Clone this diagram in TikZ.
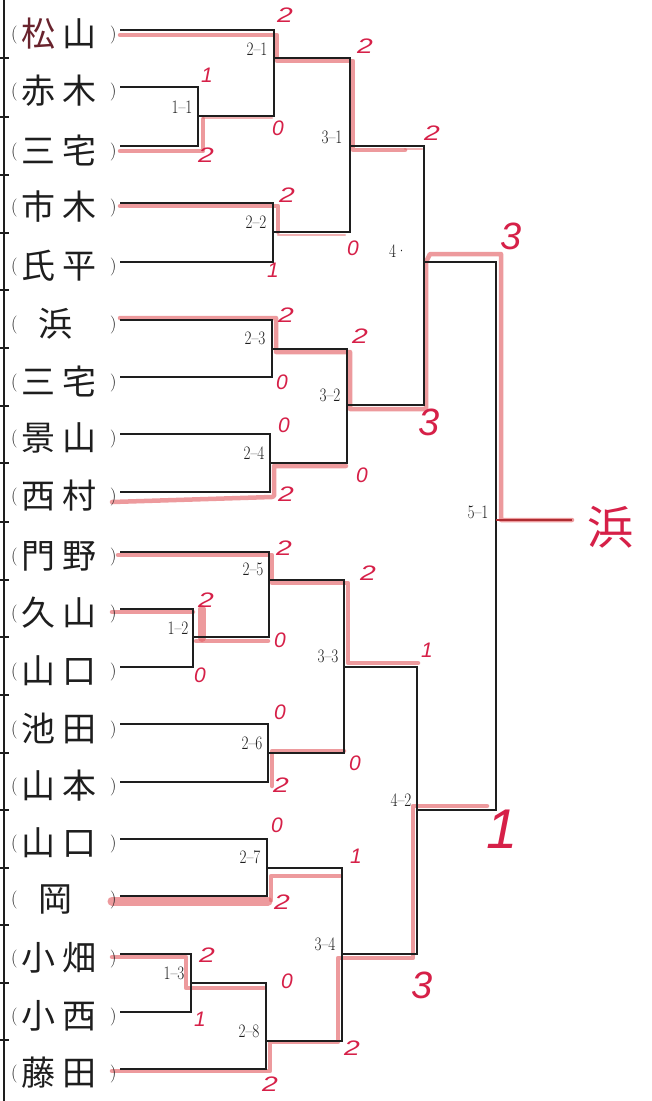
\documentclass[tikz,border=0pt]{standalone}
\usepackage{fontspec}
\usepackage{graphicx}
\newfontfamily\cjk{Noto Sans CJK JP}
\newfontfamily\pen{Liberation Sans}
\definecolor{penred}{RGB}{214,32,72}
\definecolor{hlred}{RGB}{228,100,105}
\definecolor{ink}{RGB}{30,30,30}
\definecolor{matsu}{RGB}{105,35,45}
\definecolor{finalred}{RGB}{175,45,50}
\newcommand\mlab[1]{\scalebox{0.8}[1]{#1}}
\newcommand\brL{\makebox[20pt]{\normalfont\fontsize{18}{18}\selectfont\raisebox{7pt}{(}}}
\newcommand\brR{\makebox[14pt]{\normalfont\fontsize{18}{18}\selectfont\raisebox{7pt}{)}}}
\newcommand\nmtwo[2]{\brL\makebox[28pt]{#1}\makebox[54pt]{#2}\brR}
\newcommand\nmone[1]{\brL\makebox[62pt]{#1}\makebox[20pt]{}\brR}
\newcommand\sd[1]{\scalebox{1.35}[1]{#1}}
\begin{document}
\begin{tikzpicture}[x=1pt,y=-1pt,
  br/.style={line width=1.3pt, draw=ink},
  hl/.style={line width=4.5pt, draw=hlred, draw opacity=0.65, line cap=round, line join=round},
  hlthin/.style={line width=2.5pt, draw=hlred, draw opacity=0.5, line cap=round, line join=round},
  nm/.style={anchor=west, inner sep=0, font=\cjk\fontsize{34}{34}\selectfont, text=ink},
  lbl/.style={inner sep=0, font=\normalfont\fontsize{19}{19}\selectfont, text=ink},
  sc/.style={inner sep=0, text=penred, font=\pen\itshape\fontsize{21}{21}\selectfont},
  scb/.style={inner sep=0, text=penred, font=\pen\itshape\fontsize{38}{38}\selectfont},
  scx/.style={inner sep=0, text=penred, font=\pen\itshape\fontsize{56}{56}\selectfont}]
\useasboundingbox (0,0) rectangle (652,1101);
\fill[white] (0,0) rectangle (652,1101);

% left border with ticks
\draw[line width=1.5pt, draw=ink] (4,0) -- (4,1101);
\foreach \t in {58,117,175,233,290,348,406,463,522,580,637,695,753,810,868,925,983,1040}
  \draw[line width=1.3pt, draw=ink] (0,\t) -- (9,\t);

% name line starts
\coordinate (e1) at (120,30);
\coordinate (e2) at (120,87);
\coordinate (e3) at (120,146);
\coordinate (e4) at (120,203);
\coordinate (e5) at (120,262);
\coordinate (e6) at (120,320);
\coordinate (e7) at (120,377);
\coordinate (e8) at (120,434);
\coordinate (e9) at (120,492);
\coordinate (e10) at (120,552);
\coordinate (e11) at (120,609);
\coordinate (e12) at (120,667);
\coordinate (e13) at (120,724);
\coordinate (e14) at (120,782);
\coordinate (e15) at (120,839);
\coordinate (e16) at (120,896);
\coordinate (e17) at (120,954);
\coordinate (e18) at (120,1012);
\coordinate (e19) at (120,1069);
% match junctions
\coordinate (m11) at (198,116);
\coordinate (m21) at (274,58);
\coordinate (m22) at (273,232);
\coordinate (m31) at (350,146);
\coordinate (m23) at (272,349);
\coordinate (m24) at (270,463);
\coordinate (m32) at (347,405);
\coordinate (m41) at (424,262);
\coordinate (m12) at (193,637);
\coordinate (m25) at (269,580);
\coordinate (m26) at (268,753);
\coordinate (m33) at (344,667);
\coordinate (m27) at (267,868);
\coordinate (m13) at (191,983);
\coordinate (m28) at (266,1041);
\coordinate (m34) at (342,954);
\coordinate (m42) at (417,810);
\coordinate (m51) at (496,520);
\coordinate (champ) at (572,520);

% highlights (red marker)
\draw[hl] (120,35) -- (277,35) -- (277,61) -- (353,61) -- (353,150) -- (405,150);
\draw[hlthin] (405,149) -- (422,149);
\draw[hl] (120,151) -- (203,151) -- (203,119);
\draw[hlthin] (203,118) -- (272,118);
\draw[hl] (120,206) -- (278,206) -- (278,232);
\draw[hlthin] (278,235) -- (345,235);
\draw[hl] (120,318) -- (276,318) -- (276,352) -- (350,352) -- (350,409) -- (426,409) -- (426,262) -- (430,254) -- (501,254) -- (501,520) -- (572,520);
\draw[hl] (112,502) -- (272,497) -- (274,496) -- (274,466) -- (346,466);
\draw[hl] (118,555) -- (272,555) -- (272,583) -- (348,583) -- (348,663) -- (418,663);
\draw[hl] (112,612) -- (193,612);
\draw[hl, line width=8pt] (202,609) -- (202,638);
\draw[hl] (196,641) -- (268,641);
\draw[hl] (272,786) -- (272,751) -- (344,751);
\draw[hl, line width=9pt] (112,901) -- (268,901);
\draw[hl] (271,900) -- (271,876) -- (340,876);
\draw[hl] (112,957) -- (186,957) -- (186,988) -- (264,988);
\draw[hl] (112,1071) -- (270,1071) -- (270,1042) -- (338,1042) -- (338,958) -- (413,958) -- (413,806) -- (487,806);

% bracket
\draw[br] (e1) -| (m21);  \draw[br] (m11) -| (m21);
\draw[br] (e2) -| (m11);  \draw[br] (e3) -| (m11);
\draw[br] (e4) -| (m22);  \draw[br] (e5) -| (m22);
\draw[br] (m21) -| (m31); \draw[br] (m22) -| (m31);
\draw[br] (e6) -| (m23);  \draw[br] (e7) -| (m23);
\draw[br] (e8) -| (m24);  \draw[br] (e9) -| (m24);
\draw[br] (m23) -| (m32); \draw[br] (m24) -| (m32);
\draw[br] (m31) -| (m41); \draw[br] (m32) -| (m41);
\draw[br] (e10) -| (m25); \draw[br] (m12) -| (m25);
\draw[br] (e11) -| (m12); \draw[br] (e12) -| (m12);
\draw[br] (e13) -| (m26); \draw[br] (e14) -| (m26);
\draw[br] (m25) -| (m33); \draw[br] (m26) -| (m33);
\draw[br] (e15) -| (m27); \draw[br] (e16) -| (m27);
\draw[br] (e17) -| (m13); \draw[br] (e18) -| (m13);
\draw[br] (m13) -| (m28); \draw[br] (e19) -| (m28);
\draw[br] (m27) -| (m34); \draw[br] (m28) -| (m34);
\draw[br] (m33) -| (m42); \draw[br] (m34) -| (m42);
\draw[br] (m41) -| (m51); \draw[br] (m42) -| (m51);
\draw[line width=2.2pt, draw=finalred] (m51) -- (champ);

% names
\node[nm] (n1) at (4,34) {\nmtwo{\textcolor{matsu}{松}}{山}};
\node[nm] (n2) at (4,91) {\nmtwo{赤}{木}};
\node[nm] (n3) at (4,150) {\nmtwo{三}{宅}};
\node[nm] (n4) at (4,207) {\nmtwo{市}{木}};
\node[nm] (n5) at (4,266) {\nmtwo{氏}{平}};
\node[nm] (n6) at (4,324) {\nmone{浜}};
\node[nm] (n7) at (4,381) {\nmtwo{三}{宅}};
\node[nm] (n8) at (4,438) {\nmtwo{景}{山}};
\node[nm] (n9) at (4,496) {\nmtwo{西}{村}};
\node[nm] (n10) at (4,556) {\nmtwo{門}{野}};
\node[nm] (n11) at (4,613) {\nmtwo{久}{山}};
\node[nm] (n12) at (4,671) {\nmtwo{山}{口}};
\node[nm] (n13) at (4,728) {\nmtwo{池}{田}};
\node[nm] (n14) at (4,786) {\nmtwo{山}{本}};
\node[nm] (n15) at (4,843) {\nmtwo{山}{口}};
\node[nm] (n16) at (4,900) {\nmone{岡}};
\node[nm] (n17) at (4,958) {\nmtwo{小}{畑}};
\node[nm] (n18) at (4,1016) {\nmtwo{小}{西}};
\node[nm] (n19) at (4,1073) {\nmtwo{藤}{田}};

% match labels
\node[lbl] (l21) at (257,49) {\mlab{2--1}};
\node[lbl] (l11) at (182,107) {\mlab{1--1}};
\node[lbl] (l31) at (332,137) {\mlab{3--1}};
\node[lbl] (l22) at (256,222) {\mlab{2--2}};
\node[lbl] (l41) at (398,251) {\mlab{4·}};
\node[lbl] (l23) at (255,338) {\mlab{2--3}};
\node[lbl] (l32) at (330,395) {\mlab{3--2}};
\node[lbl] (l24) at (254,453) {\mlab{2--4}};
\node[lbl] (l51) at (478,512) {\mlab{5--1}};
\node[lbl] (l25) at (253,569) {\mlab{2--5}};
\node[lbl] (l12) at (178,628) {\mlab{1--2}};
\node[lbl] (l33) at (328,656) {\mlab{3--3}};
\node[lbl] (l26) at (252,743) {\mlab{2--6}};
\node[lbl] (l42) at (401,800) {\mlab{4--2}};
\node[lbl] (l27) at (250,857) {\mlab{2--7}};
\node[lbl] (l34) at (325,944) {\mlab{3--4}};
\node[lbl] (l13) at (174,973) {\mlab{1--3}};
\node[lbl] (l28) at (249,1031) {\mlab{2--8}};

% scores
\node[sc] (s1) at (285,15) {\sd{2}};
\node[sc] (s2) at (207,75) {1};
\node[sc] (s3) at (206,155) {\sd{2}};
\node[sc] (s4) at (278,128) {0};
\node[sc] (s5) at (365,46) {\sd{2}};
\node[sc] (s6) at (432,133) {\sd{2}};
\node[sc] (s7) at (287,195) {\sd{2}};
\node[sc] (s8) at (273,270) {1};
\node[sc] (s9) at (353,248) {0};
\node[scb] (s10) at (511,236) {3};
\node[sc] (s11) at (286,315) {\sd{2}};
\node[sc] (s12) at (282,382) {0};
\node[sc] (s13) at (284,425) {0};
\node[sc] (s14) at (286,494) {\sd{2}};
\node[sc] (s15) at (360,336) {\sd{2}};
\node[sc] (s16) at (362,475) {0};
\node[scb] (s17) at (429,422) {3};
\node[sc] (s18) at (284,548) {\sd{2}};
\node[sc] (s19) at (206,600) {\sd{2}};
\node[sc] (s20) at (280,640) {0};
\node[sc] (s21) at (200,675) {0};
\node[sc] (s22) at (280,712) {0};
\node[sc] (s23) at (281,785) {\sd{2}};
\node[sc] (s24) at (368,573) {\sd{2}};
\node[sc] (s25) at (355,763) {0};
\node[sc] (s26) at (427,650) {1};
\node[sc] (s27) at (277,825) {0};
\node[sc] (s28) at (282,902) {\sd{2}};
\node[sc] (s29) at (356,856) {1};
\node[sc] (s30) at (207,955) {\sd{2}};
\node[sc] (s31) at (287,981) {0};
\node[sc] (s32) at (200,1019) {1};
\node[sc] (s33) at (352,1048) {\sd{2}};
\node[sc] (s34) at (270,1084) {\sd{2}};
\node[scb] (s35) at (422,985) {3};
\node[scx] (s36) at (502,829) {1};
\node[inner sep=0, text=penred, font=\cjk\fontsize{46}{46}\selectfont] (win) at (610,527) {浜};
\end{tikzpicture}
\end{document}
